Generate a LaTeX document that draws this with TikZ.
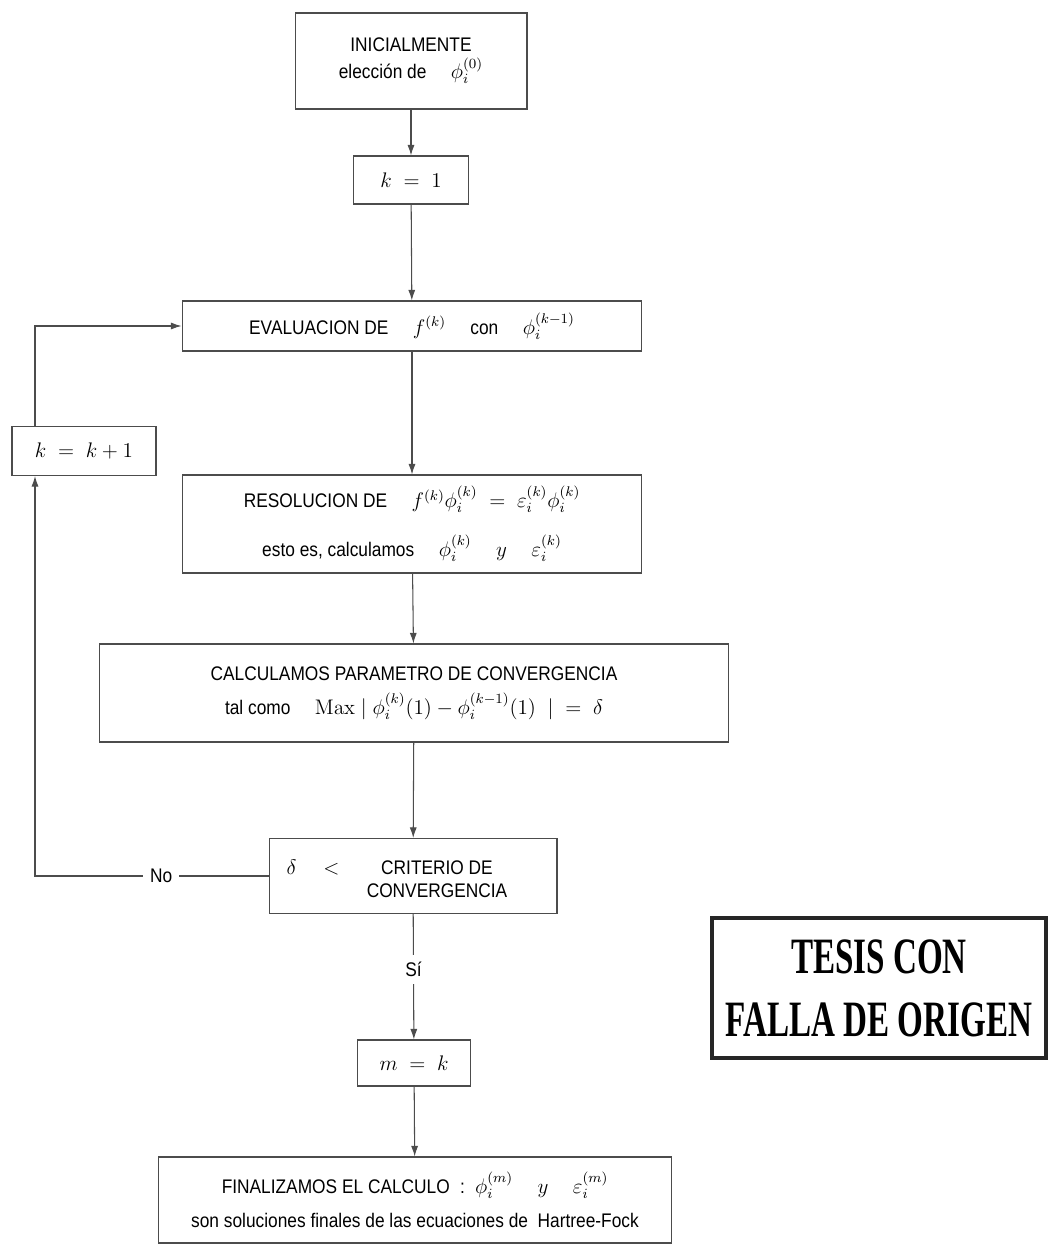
\documentclass[tikz,border=0pt]{standalone}
\usepackage[no-math]{fontspec}
\setmainfont{Liberation Sans}[FakeStretch=0.88]
\newfontfamily\stampfont{Liberation Serif}[FakeStretch=0.65]
\usetikzlibrary{arrows.meta}
\newcommand{\lgmath}[1]{{\large$#1$}}

\begin{document}
\begin{tikzpicture}[x=0.02cm, y=-0.02cm,
  every node/.style={font=\fontsize{11.2pt}{13.4pt}\selectfont},
  stepbox/.style={draw=black!70, line width=0.6pt, inner sep=0pt, align=center},
  flow/.style={draw=black!70, line width=0.6pt, -{Latex[length=6pt,width=4pt]}},
  lbl/.style={fill=white, inner sep=4pt},
  stamp/.style={draw=black!85, line width=1.8pt, inner sep=0pt, align=center,
    font=\stampfont\bfseries\fontsize{29pt}{36pt}\selectfont}]
  \useasboundingbox (0,0) rectangle (1048,1247);
  % main column
  \node[stepbox, minimum width=4.64cm, minimum height=1.92cm] (init) at (411,61)
    {INICIALMENTE\\[2pt] elección de \quad \lgmath{\phi_i^{(0)}}};
  \node[stepbox, minimum width=2.3cm, minimum height=0.96cm] (kone) at (411,180) {\lgmath{k \;=\; 1}};
  \node[stepbox, minimum width=9.2cm, minimum height=1cm] (eval) at (412,326)
    {EVALUACION DE \quad \lgmath{f^{(k)}} \quad con \quad \lgmath{\phi_i^{(k-1)}}};
  \node[stepbox, minimum width=9.2cm, minimum height=1.96cm] (resol) at (412,524)
    {RESOLUCION DE \quad \lgmath{f^{(k)}\phi_i^{(k)} \;=\; \varepsilon_i^{(k)}\phi_i^{(k)}}\\[12pt]
     esto es, calculamos \quad \lgmath{\phi_i^{(k)}} \quad \lgmath{y} \quad \lgmath{\varepsilon_i^{(k)}}};
  \node[stepbox, minimum width=12.6cm, minimum height=1.96cm] (param) at (414,693)
    {CALCULAMOS PARAMETRO DE CONVERGENCIA\\[6pt]
     tal como \quad \lgmath{\mathrm{Max}\;|\;\phi_i^{(k)}(1) - \phi_i^{(k-1)}(1)\;\;| \;=\; \delta}};
  \node[stepbox, minimum width=5.76cm, minimum height=1.5cm] (crit) at (413,876) {};
  \node (critlt) at (313,867) {\lgmath{\delta \quad <}};
  \node[align=center] (crittx) at (437,879) {CRITERIO DE\\CONVERGENCIA};
  \node[stepbox, minimum width=2.26cm, minimum height=0.92cm] (mk) at (414,1063) {\lgmath{m \;=\; k}};
  \node[stepbox, minimum width=10.28cm, minimum height=1.72cm] (final) at (415,1200)
    {FINALIZAMOS EL CALCULO \;:\; \lgmath{\phi_i^{(m)}} \quad \lgmath{y} \quad \lgmath{\varepsilon_i^{(m)}}\\[6pt]
     son soluciones finales de las ecuaciones de \ Hartree-Fock};
  % loop
  \node[stepbox, minimum width=2.88cm, minimum height=0.98cm] (kinc) at (84,451) {\lgmath{k \;=\; k+1}};
  \coordinate (back) at (35,876);
  % stamp
  \node[stamp, minimum width=6.68cm, minimum height=2.8cm] (sello) at (879,988)
    {TESIS CON\\FALLA DE ORIGEN};
  % connectors
  \draw[flow] (init) -- (kone);
  \draw[flow] (kone) -- (eval);
  \draw[flow] (eval) -- (resol);
  \draw[flow] (resol) -- (param);
  \draw[flow] (param) -- (crit);
  \draw[flow] (crit) -- node[lbl, pos=0.44] {Sí} (mk);
  \draw[flow] (mk) -- (final);
  \draw[flow] (crit.west) -- node[lbl, pos=0.46] {No} (back) -- (back |- kinc.south);
  \draw[flow] (back |- kinc.north) -- (back |- eval.west) -- (eval.west);
\end{tikzpicture}
\end{document}
